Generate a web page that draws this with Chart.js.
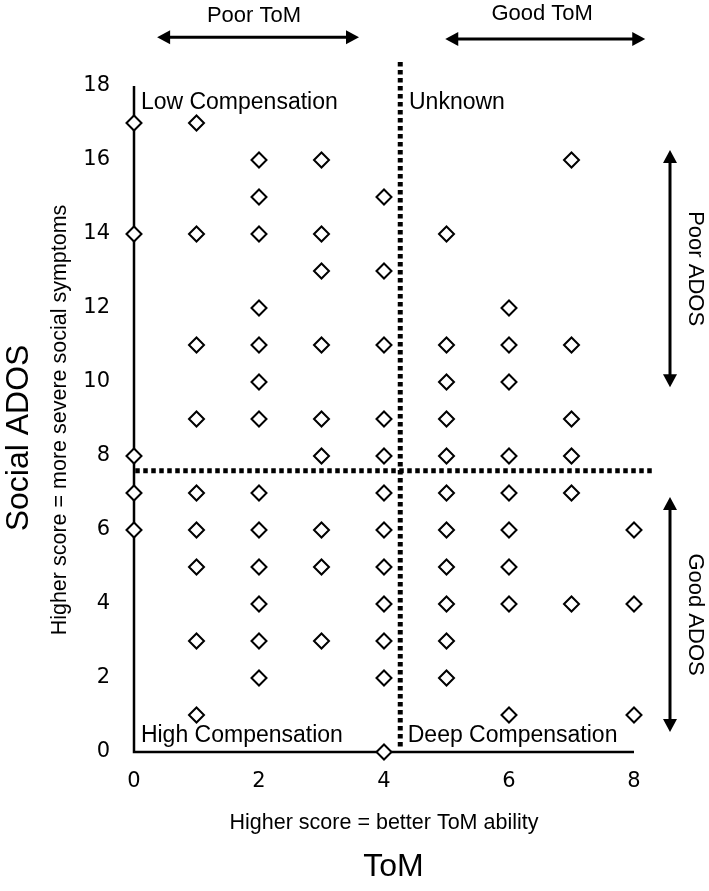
<!DOCTYPE html>
<html>
<head>
<meta charset="utf-8">
<script src="https://cdn.jsdelivr.net/npm/chart.js@4/dist/chart.umd.min.js"></script>
<style>
  html, body { margin: 0; padding: 0; background: #fff; }
  #wrap { width: 709px; height: 891px; position: relative; }
</style>
</head>
<body>
<div id="wrap"><canvas id="c" width="709" height="891"></canvas></div>
<script>
// ToM score categories (x) and the Social ADOS scores observed at each
const tomScores = [0, 1, 2, 3, 4, 5, 6, 7, 8];
const adosAtTom0 = [17, 14, 8, 7, 6];
const adosAtTom1 = [17, 14, 11, 9, 7, 6, 5, 3, 1];
const adosAtTom2 = [16, 15, 14, 12, 11, 10, 9, 7, 6, 5, 4, 3, 2];
const adosAtTom3 = [16, 14, 13, 11, 9, 8, 6, 5, 3];
const adosAtTom4 = [15, 13, 11, 9, 8, 7, 6, 5, 4, 3, 2, 0];
const adosAtTom5 = [14, 11, 10, 9, 8, 7, 6, 5, 4, 3, 2];
const adosAtTom6 = [12, 11, 10, 8, 7, 6, 5, 4, 1];
const adosAtTom7 = [16, 11, 9, 8, 7, 4];
const adosAtTom8 = [6, 4, 1];
const adosByTom = [adosAtTom0, adosAtTom1, adosAtTom2, adosAtTom3, adosAtTom4,
                   adosAtTom5, adosAtTom6, adosAtTom7, adosAtTom8];

// Axis tick labels
const xTickValues = [0, 2, 4, 6, 8];
const yTickValues = [0, 2, 4, 6, 8, 10, 12, 14, 16, 18];

// Cut-offs (dotted lines)
const tomCutoff = 4.26;
const adosCutoff = 7.6;

const points = [];
tomScores.forEach((t, i) => adosByTom[i].forEach(a => points.push({ x: t, y: a })));

const LABEL_FONT = '"Liberation Sans", Arial, sans-serif';

function arrowHead(ctx, x, y, dx, dy, len, half) {
  const px = -dy, py = dx;
  ctx.beginPath();
  ctx.moveTo(x, y);
  ctx.lineTo(x - dx * len + px * half, y - dy * len + py * half);
  ctx.lineTo(x - dx * len - px * half, y - dy * len - py * half);
  ctx.closePath();
  ctx.fill();
}
function doubleArrow(ctx, x1, y1, x2, y2) {
  const L = Math.hypot(x2 - x1, y2 - y1);
  const dx = (x2 - x1) / L, dy = (y2 - y1) / L;
  const len = 13, half = 7;
  ctx.lineWidth = 3;
  ctx.setLineDash([]);
  ctx.beginPath();
  ctx.moveTo(x1 + dx * (len - 2), y1 + dy * (len - 2));
  ctx.lineTo(x2 - dx * (len - 2), y2 - dy * (len - 2));
  ctx.stroke();
  arrowHead(ctx, x2, y2, dx, dy, len, half);
  arrowHead(ctx, x1, y1, -dx, -dy, len, half);
}
function text(ctx, s, x, y, font, align, rot) {
  ctx.save();
  ctx.translate(x, y);
  if (rot) ctx.rotate(rot);
  ctx.font = font;
  ctx.textAlign = align;
  ctx.textBaseline = 'middle';
  ctx.fillStyle = '#000';
  ctx.fillText(s, 0, 0);
  ctx.restore();
}

const decorations = {
  id: 'decorations',
  beforeDatasetsDraw(chart) {
    const { ctx, scales: { x, y } } = chart;
    const X = v => x.getPixelForValue(v), Y = v => y.getPixelForValue(v);
    ctx.save();
    ctx.strokeStyle = '#000';
    ctx.fillStyle = '#000';
    ctx.lineWidth = 2.5;
    ctx.beginPath();
    ctx.moveTo(X(0), Y(18));
    ctx.lineTo(X(0), Y(0));
    ctx.lineTo(X(8), Y(0));
    ctx.stroke();
    ctx.lineWidth = 5;
    ctx.setLineDash([4.5, 3.5]);
    ctx.beginPath();
    ctx.moveTo(X(tomCutoff), Y(18.65));
    ctx.lineTo(X(tomCutoff), Y(0.1));
    ctx.stroke();
    ctx.beginPath();
    ctx.moveTo(X(0.02), Y(adosCutoff));
    ctx.lineTo(X(8.29), Y(adosCutoff));
    ctx.stroke();
    ctx.restore();
  },
  afterDraw(chart) {
    const { ctx, scales: { x, y } } = chart;
    const X = v => x.getPixelForValue(v), Y = v => y.getPixelForValue(v);
    ctx.save();
    ctx.strokeStyle = '#000';
    ctx.fillStyle = '#000';
    const f22 = '22px ' + LABEL_FONT;
    const f23 = '23px ' + LABEL_FONT;
    text(ctx, 'Low Compensation', X(0.11), Y(17.54), f23, 'left');
    text(ctx, 'Unknown', X(4.4), Y(17.54), f23, 'left');
    text(ctx, 'High Compensation', X(0.11), Y(0.43), f23, 'left');
    text(ctx, 'Deep Compensation', X(4.38), Y(0.43), f23, 'left');
    doubleArrow(ctx, X(0.37), Y(19.32), X(3.6), Y(19.32));
    doubleArrow(ctx, X(4.98), Y(19.27), X(8.18), Y(19.27));
    text(ctx, 'Poor ToM', X(1.92), Y(19.9), f22, 'center');
    text(ctx, 'Good ToM', X(6.53), Y(19.95), f22, 'center');
    doubleArrow(ctx, X(8.576), Y(16.27), X(8.576), Y(9.86));
    doubleArrow(ctx, X(8.576), Y(6.89), X(8.576), Y(0.54));
    text(ctx, 'Poor ADOS', X(8.576) + 25, (Y(16.27) + Y(9.86)) / 2, f22, 'center', Math.PI / 2);
    text(ctx, 'Good ADOS', X(8.576) + 25, (Y(6.89) + Y(0.54)) / 2, f22, 'center', Math.PI / 2);
    text(ctx, 'Social ADOS', 19, 438, '32px ' + LABEL_FONT, 'center', -Math.PI / 2);
    text(ctx, 'Higher score = more severe social symptoms', 60, 420, '21.5px ' + LABEL_FONT, 'center', -Math.PI / 2);
    text(ctx, 'Higher score = better ToM ability', X(4), 823, '21.5px ' + LABEL_FONT, 'center');
    text(ctx, 'ToM', X(4.15), 867, '32px ' + LABEL_FONT, 'center');
    ctx.restore();
  }
};

new Chart(document.getElementById('c'), {
  type: 'scatter',
  data: {
    datasets: [{
      data: points,
      pointStyle: 'rectRot',
      pointRadius: 7.5,
      pointHoverRadius: 7.5,
      pointBorderWidth: 2,
      pointBackgroundColor: '#fff',
      pointBorderColor: '#000',
      clip: false
    }]
  },
  options: {
    responsive: false,
    animation: false,
    events: [],
    layout: { padding: { left: 0, top: 86, right: 75, bottom: 0 } },
    plugins: { legend: { display: false }, tooltip: { enabled: false } },
    scales: {
      x: {
        type: 'linear', min: 0, max: 8,
        grid: { display: false, drawTicks: false },
        border: { display: false },
        afterFit(s) { s.height = 139; },
        afterBuildTicks(s) { s.ticks = xTickValues.map(v => ({ value: v })); },
        ticks: { padding: 17, color: '#000', font: { family: '"DejaVu Sans"', size: 21 } }
      },
      y: {
        type: 'linear', min: 0, max: 18,
        grid: { display: false, drawTicks: false },
        border: { display: false },
        afterFit(s) { s.width = 134; },
        afterBuildTicks(s) { s.ticks = yTickValues.map(v => ({ value: v })); },
        ticks: { padding: 24, color: '#000', font: { family: '"DejaVu Sans"', size: 21 } }
      }
    }
  },
  plugins: [decorations]
});
</script>
</body>
</html>
